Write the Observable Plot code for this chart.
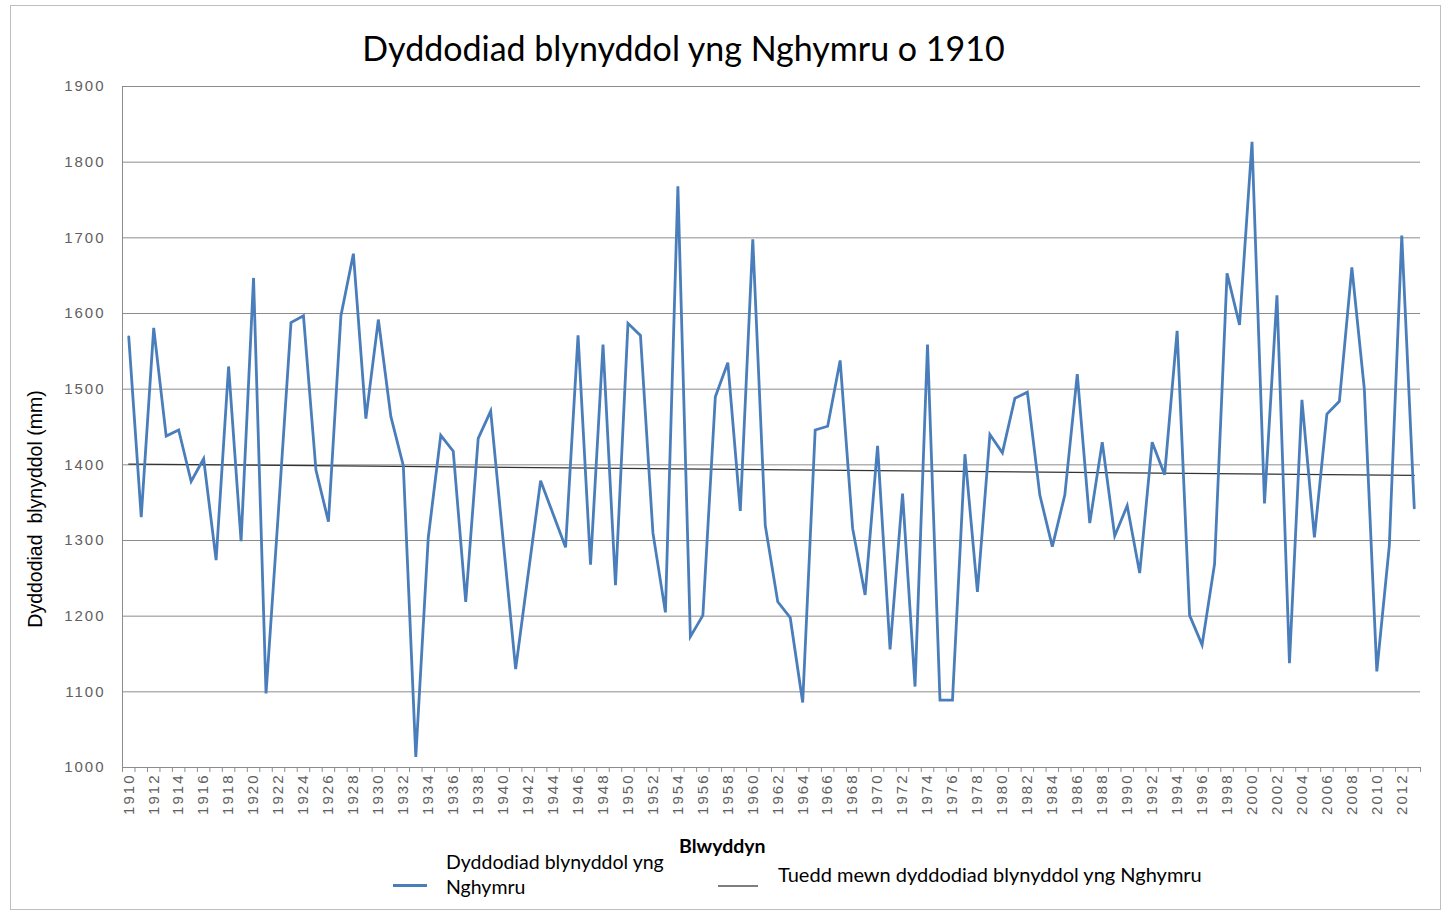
<!DOCTYPE html>
<html>
<head>
<meta charset="utf-8">
<script src="https://cdn.jsdelivr.net/npm/d3@7"></script>
<script src="https://cdn.jsdelivr.net/npm/@observablehq/plot@0.6"></script>
<style>
  html, body { margin: 0; padding: 0; background: #fff; }
  #wrap { position: relative; width: 1449px; height: 916px; overflow: hidden; font-family: Lato, "Open Sans", sans-serif; }
  #frame { position: absolute; left: 10px; top: 5px; width: 1431px; height: 905px; border: 1px solid #bfbfbf; box-sizing: border-box; pointer-events: none; }
  #chart { position: absolute; left: 0; top: 0; }
  .abs { position: absolute; white-space: nowrap; color: #000; }
</style>
</head>
<body>
<div id="wrap">
  <div id="frame"></div>
  <div id="chart"></div>
  <div class="abs" id="title" style="left:0; width:1367px; top:28px; text-align:center; font-size:34px; line-height:40px;">Dyddodiad blynyddol yng Nghymru o 1910</div>
  <div class="abs" id="ylabel" style="left:35px; top:509px; transform: translate(-50%,-50%) rotate(-90deg); font-family:'Liberation Sans', Arial, sans-serif; font-size:19.5px; white-space:pre;">Dyddodiad  blynyddol (mm)</div>
  <div class="abs" style="left:393px; top:884px; width:34px; height:0; border-top:3px solid #4a7ebb;"></div>
  <div class="abs" style="left:446px; top:849px; font-size:19.5px; line-height:25px;">Dyddodiad blynyddol yng<br>Nghymru</div>
  <div class="abs" id="xlabel" style="left:677px; top:834px; font-weight:bold; font-size:19.5px; line-height:24px; background:#fff; padding-left:2px;">Blwyddyn</div>
  <div class="abs" style="left:718px; top:885px; width:40px; height:0; border-top:2px solid #7f7f7f;"></div>
  <div class="abs" style="left:778px; top:862px; font-size:20px; line-height:25px;">Tuedd mewn dyddodiad blynyddol yng Nghymru</div>
</div>
<script>
// Years 1910–2013
const years = d3.range(1910, 2014);
// Annual rainfall in Wales (mm)
const rainfall = [
  1569, 1331, 1581, 1438, 1446, 1378, 1408, 1274, 1530, 1299, // 1910-1919
  1647, 1098, 1340, 1588, 1597, 1393, 1325, 1597, 1679, 1461, // 1920-1929
  1592, 1464, 1399, 1014, 1304, 1439, 1418, 1219, 1435, 1471, // 1930-1939
  1300, 1130, 1255, 1379, 1335, 1291, 1571, 1268, 1559, 1241, // 1940-1949
  1587, 1571, 1310, 1205, 1768, 1173, 1201, 1490, 1535, 1339, // 1950-1959
  1698, 1320, 1219, 1198, 1086, 1446, 1451, 1538, 1316, 1228, // 1960-1969
  1425, 1156, 1362, 1107, 1559, 1089, 1089, 1414, 1232, 1440, // 1970-1979
  1416, 1488, 1496, 1360, 1292, 1360, 1520, 1323, 1430, 1306, // 1980-1989
  1346, 1257, 1430, 1387, 1577, 1201, 1162, 1269, 1653, 1585, // 1990-1999
  1827, 1349, 1624, 1138, 1486, 1304, 1467, 1484, 1661, 1500, // 2000-2009
  1127, 1293, 1703, 1343                                      // 2010-2013
];
// Trend line endpoints
const trendYears = [1910, 2013];
const trendValues = [1401, 1386];
// Axis ticks
const yTicks = [1000, 1100, 1200, 1300, 1400, 1500, 1600, 1700, 1800, 1900];
const xLabelYears = d3.range(1910, 2013, 2);

const data = years.map((y, i) => ({year: y, value: rainfall[i]}));
const trend = trendYears.map((y, i) => ({year: y, value: trendValues[i]}));
const boundaries = d3.range(1909.5, 2014, 1);

const chart = Plot.plot({
  width: 1449,
  height: 916,
  marginLeft: 122,
  marginRight: 29,
  marginTop: 86,
  marginBottom: 149,
  style: {fontFamily: "'Liberation Sans', Arial, sans-serif", background: "transparent"},
  x: {domain: [1909.5, 2013.5]},
  y: {domain: [1000, 1900]},
  marks: [
    Plot.ruleY(yTicks, {stroke: "#8c8c8c", strokeWidth: 1}),
    Plot.ruleX([1909.5], {stroke: "#8c8c8c", strokeWidth: 1}),
    Plot.axisY({ticks: yTicks, tickSize: 0, tickPadding: 17, label: null, fontSize: 15, fill: "#606060", tickFormat: d => String(d)}),
    Plot.axisX({ticks: boundaries, tickSize: 5, tickFormat: () => "", label: null, stroke: "#8c8c8c"}),
    Plot.axisX({ticks: xLabelYears, tickSize: 0, tickPadding: 6, tickRotate: -90, label: null, fontSize: 15, fill: "#606060", tickFormat: d => String(d)}),
    Plot.line(trend, {x: "year", y: "value", stroke: "#333333", strokeWidth: 1.2}),
    Plot.line(data, {x: "year", y: "value", stroke: "#4a7ebb", strokeWidth: 2.8, strokeLinejoin: "miter", strokeMiterlimit: 4})
  ]
});
document.getElementById("chart").appendChild(chart);
d3.select(chart).selectAll("text").attr("letter-spacing", "2px");
</script>
</body>
</html>
